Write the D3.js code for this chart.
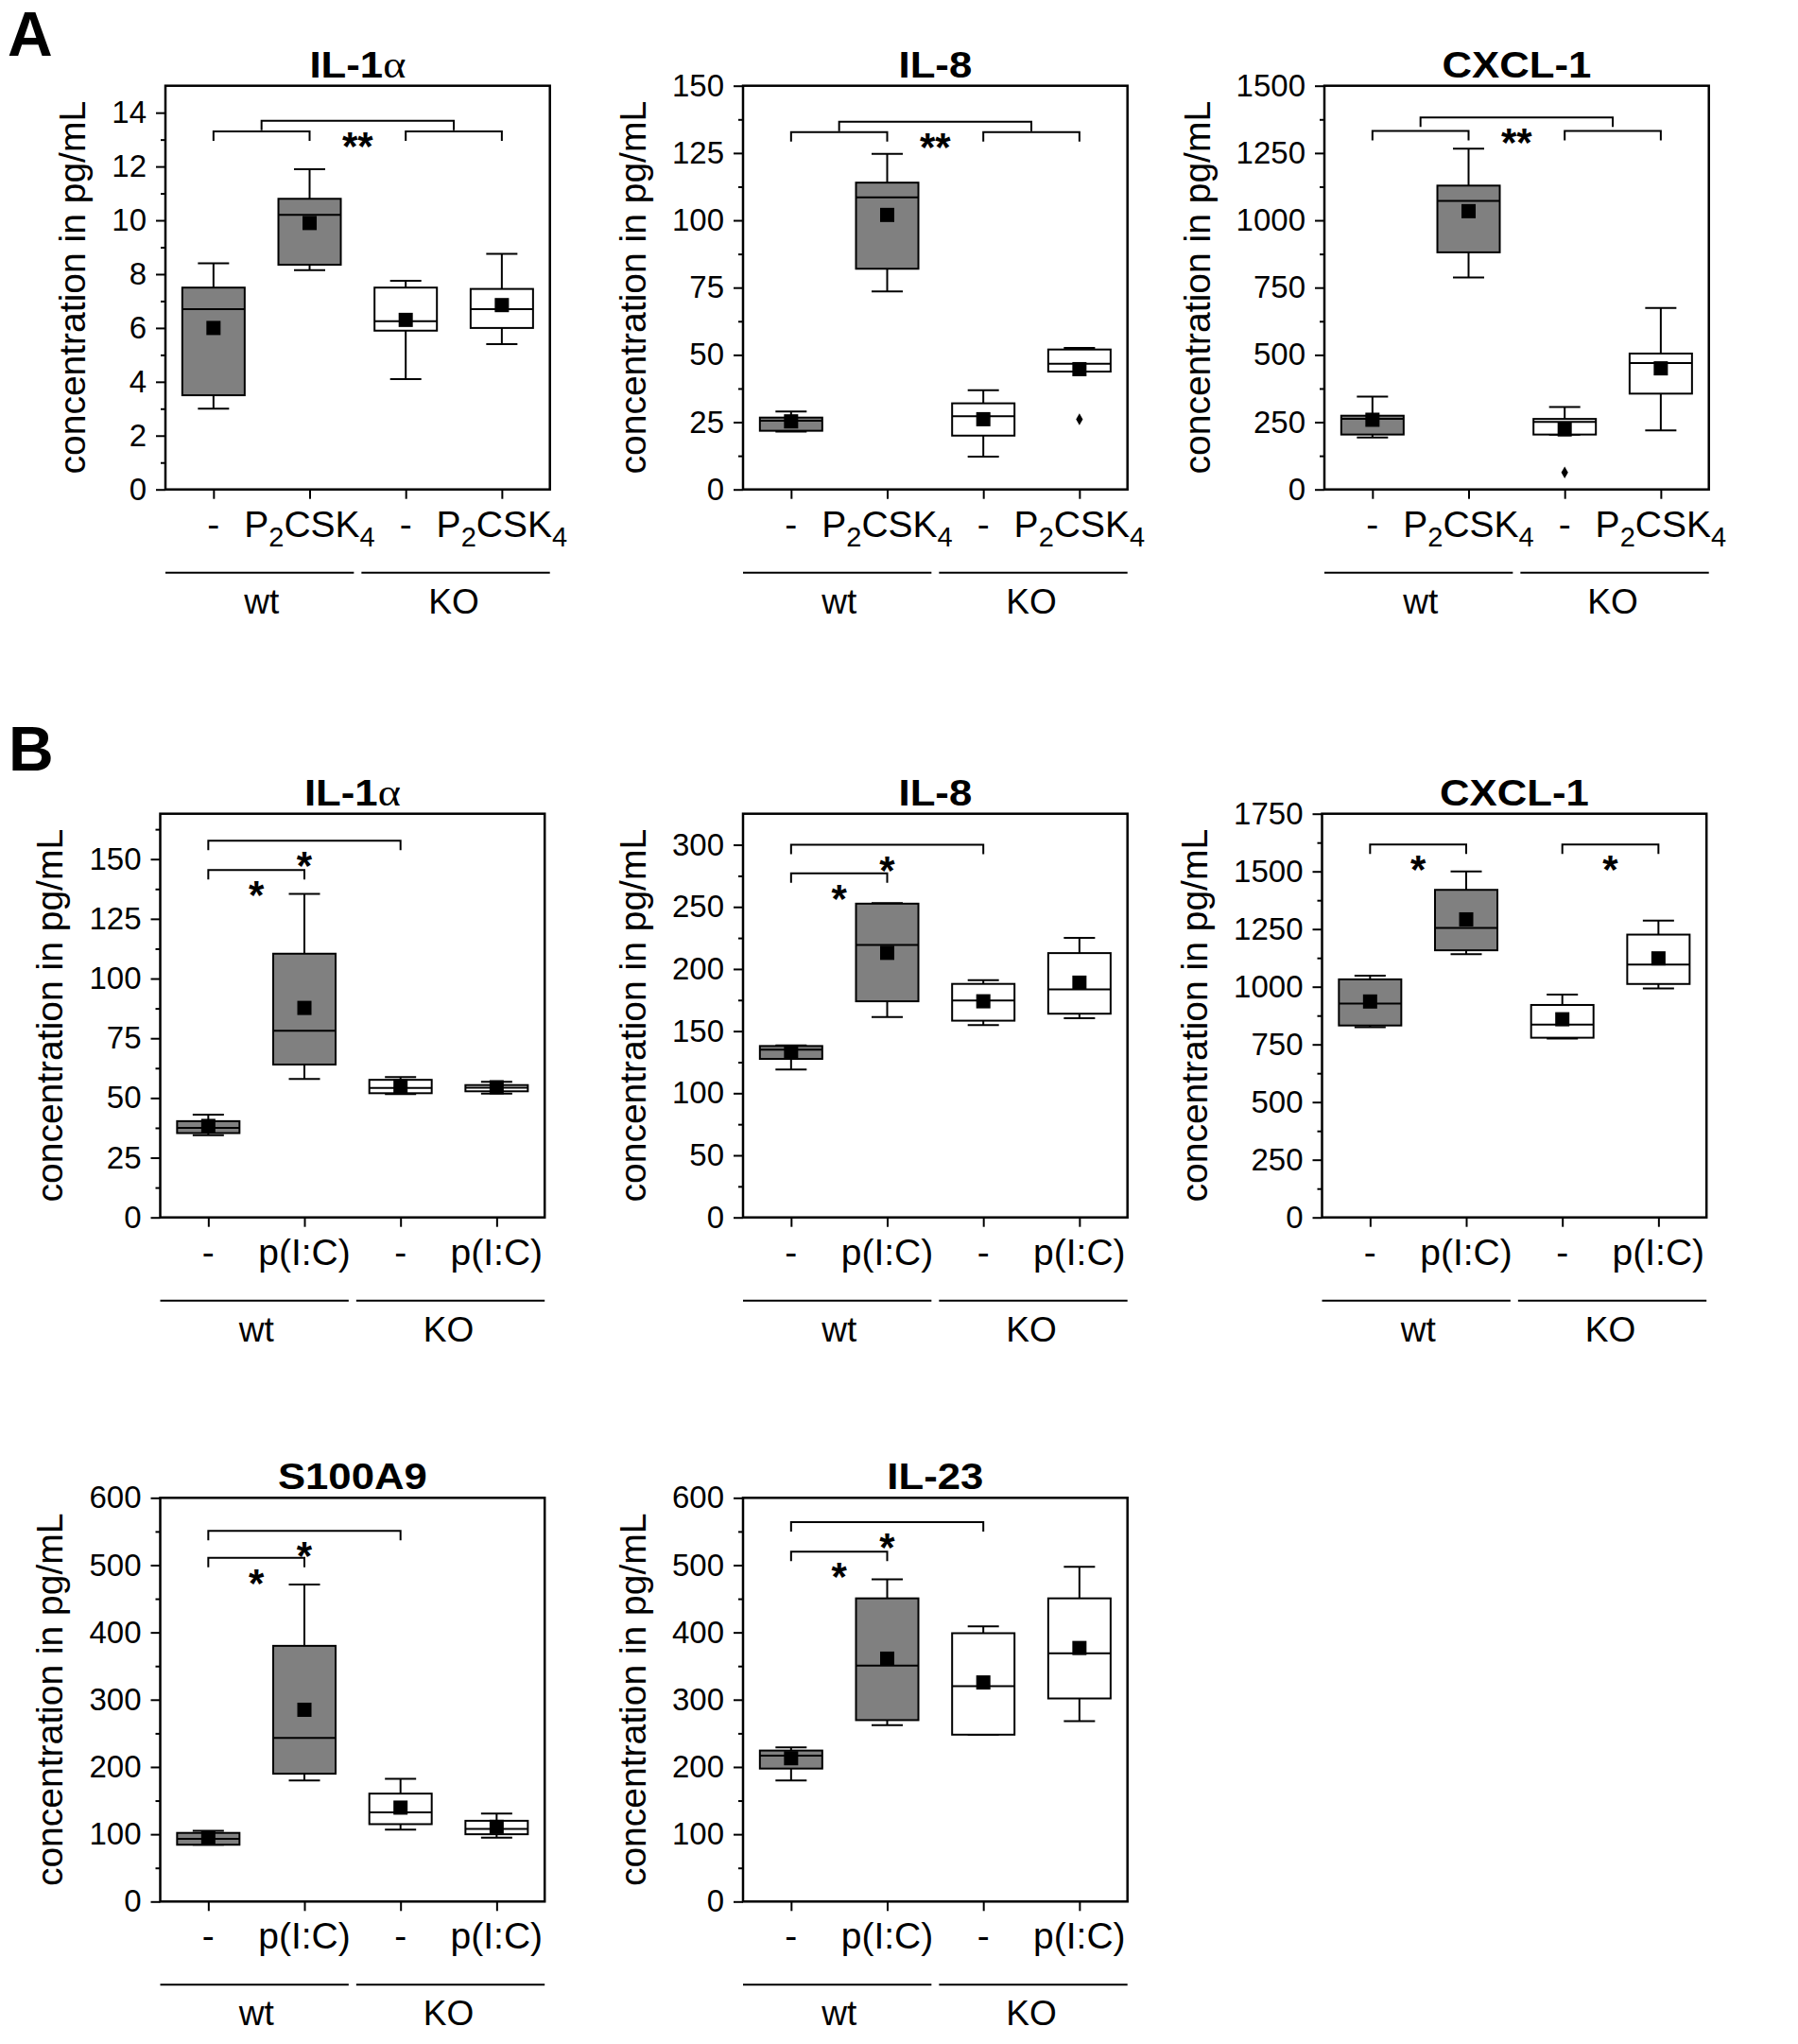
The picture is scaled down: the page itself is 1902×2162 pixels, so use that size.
<!DOCTYPE html>
<html>
<head>
<meta charset="utf-8">
<script src="https://cdn.jsdelivr.net/npm/d3@7"></script>
<style>
  body { margin: 0; background: #fff; }
  text { font-family: 'Liberation Sans', Arial, sans-serif; fill: #000; }
</style>
</head>
<body>
<svg width="1902" height="2162"></svg>
<script>
// ---- data ----
const groups = ['wt', 'KO'];
const treatA = ['-', 'P2CSK4', '-', 'P2CSK4'];
const treatB = ['-', 'p(I:C)', '-', 'p(I:C)'];
const yTitle = 'concentration in pg/mL';

const panelTitles = ['IL-1α', 'IL-8', 'CXCL-1', 'IL-1α', 'IL-8', 'CXCL-1', 'S100A9', 'IL-23'];
const yMax  = [15, 150, 1500, 169, 325, 1750, 600, 600];
const yStep = [2, 25, 250, 25, 50, 250, 100, 100];

// each row: whisker low, Q1, median, Q3, whisker high, mean
const statsA_IL1a  = [[3.0, 3.5, 6.7, 7.5, 8.4, 6.0], [8.15, 8.35, 10.2, 10.8, 11.9, 9.9], [4.1, 5.9, 6.25, 7.5, 7.75, 6.3], [5.4, 6.0, 6.7, 7.45, 8.75, 6.85]];
const statsA_IL8   = [[21.5, 21.8, 25.5, 26.7, 29, 25.3], [73.6, 82, 108.5, 114, 124.7, 102], [12.2, 20, 27.2, 32, 36.9, 26.1], [43.8, 43.8, 46.7, 52, 52.6, 44.7]];
const statsA_CXCL1 = [[193, 204, 262, 274, 345, 259], [788, 881, 1072, 1129, 1266, 1034], [204, 204, 251, 262, 306, 223], [219, 356, 470, 505, 674, 450]];
const statsB_IL1a  = [[34.4, 35.3, 37.5, 40.3, 43, 38.3], [58, 64, 78.1, 110.4, 135.4, 87.7], [51.6, 52, 54.2, 57.6, 58.8, 54.9], [51.8, 52.8, 54.3, 55.4, 56.8, 54.5]];
const statsB_IL8   = [[119, 127.6, 135, 138, 138.5, 133], [161.4, 174, 219.4, 252.6, 253, 213], [154.8, 158.4, 174.7, 188, 191, 174], [160.4, 164, 183.6, 212.8, 225, 189]];
const statsB_CXCL1 = [[825, 832, 927, 1032, 1048, 936], [1141, 1158, 1255, 1420, 1500, 1292], [775, 779, 836, 921, 966, 859], [993, 1012, 1096, 1226, 1287, 1123]];
const statsS100A9  = [[84.4, 84.4, 93.3, 102, 105, 95], [180, 190, 243, 380, 471, 285], [107, 115, 132.5, 160.4, 182.4, 139.6], [95, 100, 108, 120, 130.7, 111]];
const statsIL23    = [[179.8, 197.6, 216.7, 224.4, 229, 213], [262, 269.6, 350.6, 450.6, 479, 361], [248, 248, 320, 398.8, 409, 325.6], [268, 301.8, 369, 450.6, 497.6, 376.8]];

// outliers: [category (1-4), value]
const outA_IL8   = [[4, 26.1]];
const outA_CXCL1 = [[3, 63]];

// significance brackets: [from category, to category, level, label]
const brA_IL1a  = [[1, 2, 13.3, ''], [3, 4, 13.3, ''], [1.5, 3.5, 13.7, '**']];
const brA_IL8   = [[1, 2, 132.8, ''], [3, 4, 132.8, ''], [1.5, 3.5, 136.6, '**']];
const brA_CXCL1 = [[1, 2, 1332, ''], [3, 4, 1332, ''], [1.5, 3.5, 1382, '**']];
const brB_IL1a  = [[1, 2, 145.4, '*'], [1, 3, 157.7, '*']];
const brB_IL8   = [[1, 2, 277, '*'], [1, 3, 300, '*']];
const brB_CXCL1 = [[1, 2, 1617, '*'], [3, 4, 1617, '*']];
const brS100A9  = [[1, 2, 511, '*'], [1, 3, 551, '*']];
const brIL23    = [[1, 2, 520, '*'], [1, 3, 564, '*']];

const panelStats = [statsA_IL1a, statsA_IL8, statsA_CXCL1, statsB_IL1a, statsB_IL8, statsB_CXCL1, statsS100A9, statsIL23];
const panelOut = [[], outA_IL8, outA_CXCL1, [], [], [], [], []];
const panelBr = [brA_IL1a, brA_IL8, brA_CXCL1, brB_IL1a, brB_IL8, brB_CXCL1, brS100A9, brIL23];
const panelTreat = [treatA, treatA, treatA, treatB, treatB, treatB, treatB, treatB];

// ---- layout ----
const svg = d3.select('svg');
const W = 406.7, H = 427;
const lefts = [175, 786, 1401, 169.5, 786, 1398.5, 169.5, 786];
const tops  = [90.7, 90.7, 90.7, 860.7, 860.7, 860.7, 1584.3, 1584.3];
const gray = '#808080';

svg.append('text').attr('x', 8).attr('y', 59).attr('font-size', 66).attr('font-weight', 'bold').text('A');
svg.append('text').attr('x', 9).attr('y', 815).attr('font-size', 66).attr('font-weight', 'bold').text('B');

const drawPanel = i => {
  const g = svg.append('g').attr('transform', `translate(${lefts[i]}, ${tops[i]})`);
  const x = d3.scaleLinear().domain([0.5, 4.5]).range([0, W]);
  const y = d3.scaleLinear().domain([0, yMax[i]]).range([H, 0]);
  const step = yStep[i];

  // minor y ticks
  const minor = d3.range(step / 2, yMax[i] - 1e-6, step);
  const minorG = g.append('g').call(d3.axisLeft(y).tickValues(minor).tickSize(5).tickFormat(''));
  minorG.select('.domain').remove();
  minorG.selectAll('line').attr('stroke-width', 2);

  // major y ticks
  const major = d3.range(0, yMax[i] + 1e-6, step);
  const yAxisG = g.append('g').call(d3.axisLeft(y).tickValues(major).tickFormat(d3.format('d'))
    .tickSize(10).tickPadding(10).tickSizeOuter(0));
  yAxisG.select('.domain').remove();
  yAxisG.attr('font-size', 33).attr('font-family', "'Liberation Sans', Arial, sans-serif");
  yAxisG.selectAll('line').attr('stroke-width', 2);

  // x ticks
  const xAxisG = g.append('g').attr('transform', `translate(0, ${H})`)
    .call(d3.axisBottom(x).tickValues([1, 2, 3, 4]).tickSize(10).tickFormat(''));
  xAxisG.select('.domain').remove();
  xAxisG.selectAll('line').attr('stroke-width', 2);

  // frame
  g.append('rect').attr('width', W).attr('height', H)
    .attr('fill', 'none').attr('stroke', '#000').attr('stroke-width', 2.5);

  // y axis title, placed left of the widest tick label
  const labW = d3.max(yAxisG.selectAll('text').nodes(), n => n.getBBox().width);
  g.append('text')
    .attr('transform', `translate(${-(20 + labW + 28)}, ${H / 2}) rotate(-90)`)
    .attr('text-anchor', 'middle').attr('font-size', 39)
    .text(yTitle);

  // panel title (greek letters in a serif face), slightly wide like the original
  const t = g.append('text')
    .attr('transform', `translate(${W / 2}, -9) scale(1.15, 1)`)
    .attr('text-anchor', 'middle').attr('font-size', 38).attr('font-weight', 'bold');
  panelTitles[i].split(/([α-ω])/).filter(s => s).forEach(s => {
    const sp = t.append('tspan').text(s);
    if (/[α-ω]/.test(s)) sp.attr('font-family', "'Liberation Serif', serif").attr('font-weight', 'normal').attr('font-size', 40);
  });

  // boxes
  const bw = 66, cw = 33, ms = 15;
  panelStats[i].forEach((s, j) => {
    const [lo, q1, med, q3, hi, mean] = s;
    const cx = x(j + 1);
    const bg = g.append('g').attr('stroke', '#000').attr('stroke-width', 2);
    bg.append('line').attr('x1', cx).attr('x2', cx).attr('y1', y(hi)).attr('y2', y(lo));
    bg.append('line').attr('x1', cx - cw / 2).attr('x2', cx + cw / 2).attr('y1', y(hi)).attr('y2', y(hi));
    bg.append('line').attr('x1', cx - cw / 2).attr('x2', cx + cw / 2).attr('y1', y(lo)).attr('y2', y(lo));
    bg.append('rect').attr('x', cx - bw / 2).attr('width', bw)
      .attr('y', y(q3)).attr('height', y(q1) - y(q3))
      .attr('fill', j < 2 ? gray : '#fff');
    bg.append('line').attr('x1', cx - bw / 2).attr('x2', cx + bw / 2).attr('y1', y(med)).attr('y2', y(med));
    g.append('rect').attr('x', cx - ms / 2).attr('y', y(mean) - ms / 2)
      .attr('width', ms).attr('height', ms).attr('fill', '#000');
  });

  // outliers
  g.selectAll('path.out').data(panelOut[i]).enter().append('path')
    .attr('class', 'out')
    .attr('transform', d => `translate(${x(d[0])}, ${y(d[1])})`)
    .attr('d', d3.symbol(d3.symbolDiamond, 45))
    .attr('fill', '#000');

  // significance brackets
  panelBr[i].forEach(([a, b, lvl, lab]) => {
    const x0 = x(a), x1 = x(b), yy = y(lvl);
    g.append('path').attr('d', `M${x0},${yy + 10}V${yy}H${x1}V${yy + 10}`)
      .attr('fill', 'none').attr('stroke', '#000').attr('stroke-width', 2);
    if (lab) g.append('text').attr('x', (x0 + x1) / 2).attr('y', yy + 41)
      .attr('text-anchor', 'middle').attr('font-size', 42).attr('font-weight', 'bold').text(lab);
  });

  // category labels (digits in P2CSK4 are subscripts)
  panelTreat[i].forEach((lab, j) => {
    const ct = g.append('text').attr('x', x(j + 1)).attr('y', H + 50)
      .attr('text-anchor', 'middle').attr('font-size', 39);
    let down = false;
    lab.split(/(\d)/).filter(s => s).forEach(s => {
      if (/\d/.test(s)) { ct.append('tspan').attr('font-size', 29).attr('dy', 10).text(s); down = true; }
      else { ct.append('tspan').attr('dy', down ? -10 : 0).text(s); down = false; }
    });
  });

  // group lines and labels
  const mid = x(2.5);
  [[0, mid - 4], [mid + 4, W]].forEach(([a, b]) => {
    g.append('line').attr('x1', a).attr('x2', b).attr('y1', H + 88).attr('y2', H + 88)
      .attr('stroke', '#000').attr('stroke-width', 2);
  });
  groups.forEach((gr, k) => {
    g.append('text').attr('x', x(1.5 + 2 * k)).attr('y', H + 131)
      .attr('text-anchor', 'middle').attr('font-size', 37).text(gr);
  });
};

d3.range(panelTitles.length).forEach(drawPanel);
</script>
</body>
</html>
